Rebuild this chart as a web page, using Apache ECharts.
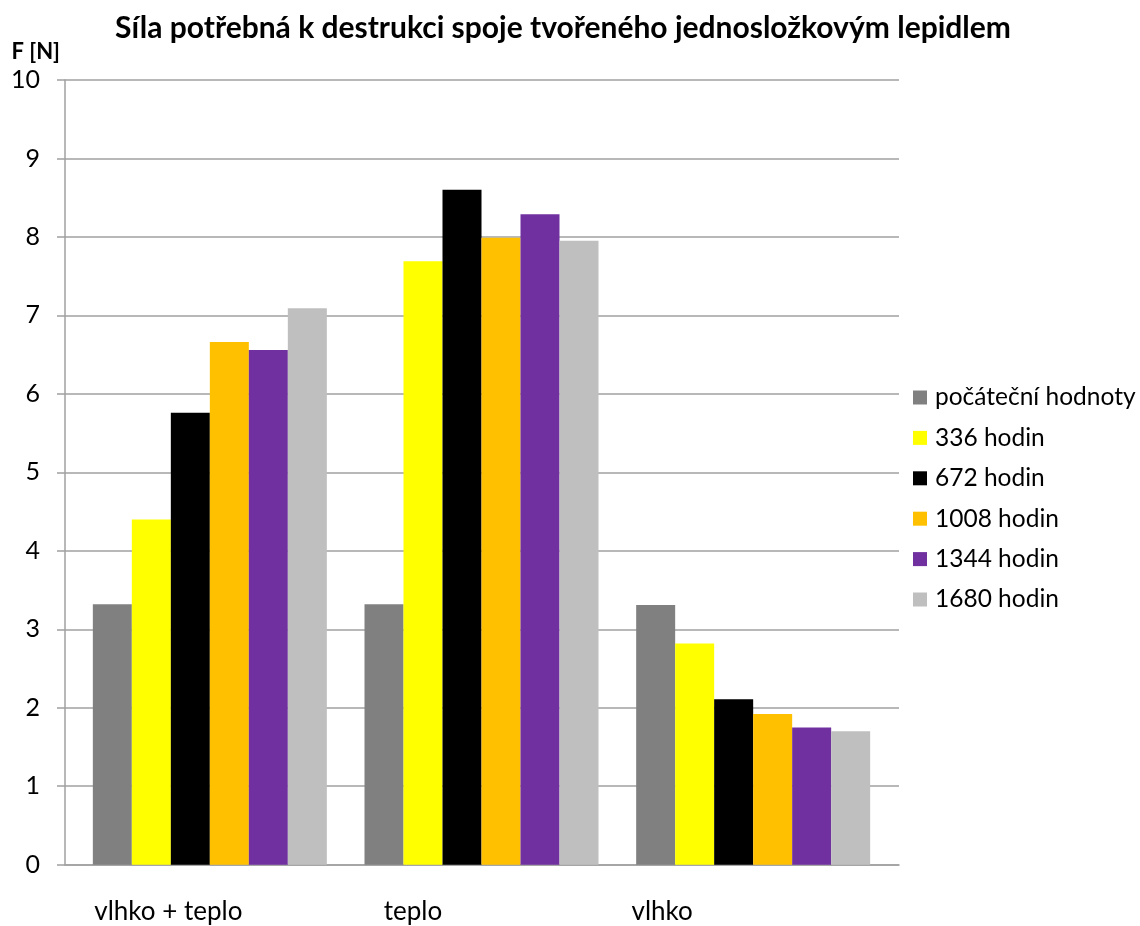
<!DOCTYPE html>
<html>
<head>
<meta charset="utf-8">
<title>Síla potřebná k destrukci spoje</title>
<script src="https://cdn.jsdelivr.net/npm/echarts@6/dist/echarts.min.js"></script>
<style>
  html, body { margin: 0; padding: 0; background: #ffffff; }
  #chart { width: 1140px; height: 926px; }
</style>
</head>
<body>
<div id="chart"></div>
<script>
// Test conditions (categories) and measured destruction force per exposure time
const categories = ['vlhko + teplo', 'teplo', 'vlhko'];
const seriesNames = ['počáteční hodnoty', '336 hodin', '672 hodin', '1008 hodin', '1344 hodin', '1680 hodin'];
const pocatecniHodnoty = [3.32, 3.32, 3.31];
const hodin336 = [4.40, 7.69, 2.82];
const hodin672 = [5.76, 8.60, 2.11];
const hodin1008 = [6.66, 7.99, 1.92];
const hodin1344 = [6.56, 8.29, 1.75];
const hodin1680 = [7.09, 7.95, 1.70];
const yTicks = [0, 1, 2, 3, 4, 5, 6, 7, 8, 9, 10];

const seriesValues = [pocatecniHodnoty, hodin336, hodin672, hodin1008, hodin1344, hodin1680];
const colors = ['#808080', '#FFFF00', '#000000', '#FFC000', '#7030A0', '#BFBFBF'];

const FONT = 'Lato, "Noto Sans", "DejaVu Sans", sans-serif';
const GRID_COLOR = '#a0a0a0';

const chart = echarts.init(document.getElementById('chart'), null, { renderer: 'canvas' });

// per-label horizontal shift of the category captions
const labelRich = {};
[83, 137, 182].forEach(function (shift, i) {
  labelRich['c' + i] = { fontFamily: FONT, fontSize: 26, color: '#000', padding: [0, shift, 0, 0] };
});

const option = {
  animation: false,
  backgroundColor: '#ffffff',
  color: colors,
  title: {
    text: 'Síla potřebná k destrukci spoje tvořeného jednosložkovým lepidlem',
    left: 115,
    top: 13,
    padding: 0,
    textStyle: { fontFamily: FONT, fontSize: 30, fontWeight: 'bold', color: '#000' }
  },
  legend: {
    orient: 'vertical',
    left: 913,
    top: 385,
    itemWidth: 14,
    itemHeight: 14,
    itemGap: 15.4,
    padding: 0,
    icon: 'rect',
    data: seriesNames,
    textStyle: { fontFamily: FONT, fontSize: 24.5, color: '#000', padding: [0, 0, 0, 3] }
  },
  grid: [
    // frame grid: value axis, gridlines and baseline
    { left: 65, right: 241, top: 80, bottom: 61.3, containLabel: false },
    // bar grid: holds the clustered columns
    { left: 74, width: 815, top: 80, bottom: 61.3, containLabel: false }
  ],
  xAxis: [
    {
      gridIndex: 0,
      type: 'category',
      data: categories,
      axisLine: { show: true, lineStyle: { color: GRID_COLOR, width: 1.5 } },
      axisTick: { show: false },
      axisLabel: { show: false },
      splitLine: { show: false }
    },
    {
      gridIndex: 1,
      type: 'category',
      data: categories,
      axisLine: { show: false },
      axisTick: { show: false },
      splitLine: { show: false },
      axisLabel: {
        show: true,
        interval: 0,
        margin: 34,
        fontFamily: FONT,
        fontSize: 26,
        color: '#000',
        formatter: function (value, idx) { return '{c' + idx + '|' + value + '}'; },
        rich: labelRich
      }
    }
  ],
  yAxis: [
    {
      gridIndex: 0,
      type: 'value',
      min: yTicks[0],
      max: yTicks[yTicks.length - 1],
      interval: 1,
      name: 'F [N]',
      nameLocation: 'end',
      nameGap: 28,
      nameTextStyle: {
        fontFamily: FONT, fontSize: 22, fontWeight: 'bold', color: '#000',
        align: 'right', verticalAlign: 'middle', padding: [0, 5, 0, 0]
      },
      axisLine: { show: true, lineStyle: { color: GRID_COLOR, width: 1.5 } },
      axisTick: { show: true, inside: false, length: 8, lineStyle: { color: GRID_COLOR, width: 1.5 } },
      axisLabel: { show: true, margin: 25, fontFamily: FONT, fontSize: 25, color: '#000' },
      splitLine: { show: true, lineStyle: { color: GRID_COLOR, width: 1.5 } }
    },
    {
      gridIndex: 1,
      type: 'value',
      min: yTicks[0],
      max: yTicks[yTicks.length - 1],
      interval: 1,
      show: false,
      splitLine: { show: false }
    }
  ],
  series: seriesNames.map(function (name, i) {
    return {
      name: name,
      type: 'bar',
      xAxisIndex: 1,
      yAxisIndex: 1,
      data: seriesValues[i],
      barWidth: 39,
      barGap: '0%',
      itemStyle: { color: colors[i] },
      emphasis: { disabled: true }
    };
  })
};

chart.setOption(option);
</script>
</body>
</html>
